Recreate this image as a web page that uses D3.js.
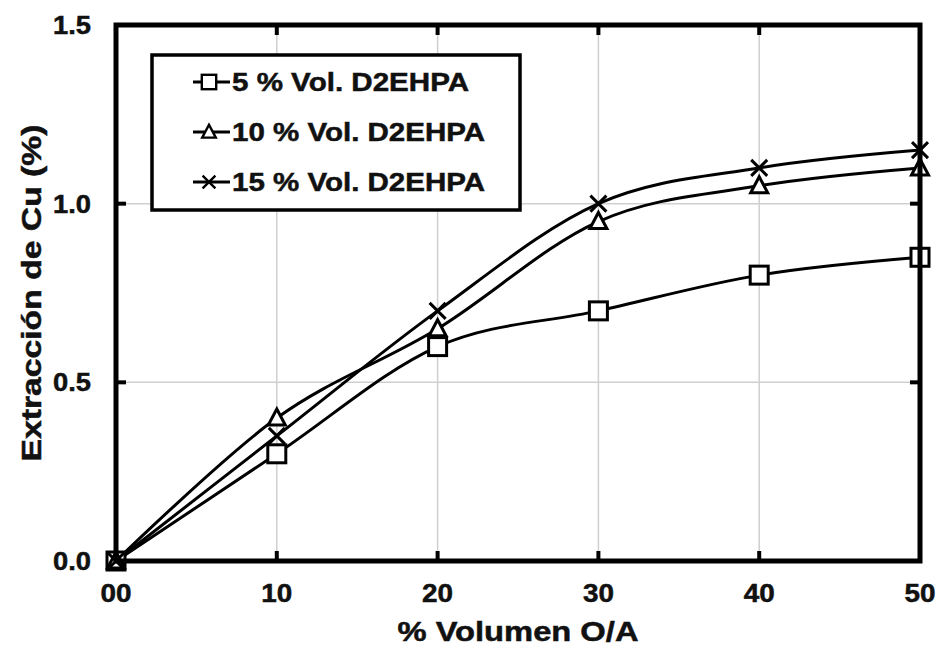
<!DOCTYPE html>
<html>
<head>
<meta charset="utf-8">
<script src="https://cdn.jsdelivr.net/npm/d3@7"></script>
<style>
  body { margin: 0; background: #fff; }
  text { font-family: "Liberation Sans", Arial, sans-serif; font-weight: bold; fill: #111; stroke: #111; stroke-width: 0.5px; }
</style>
</head>
<body>
<svg id="chart" width="938" height="664"></svg>
<script>
//*************************************************
// Data
//*************************************************
var volumen = [0, 10, 20, 30, 40, 50];
var xTickLabels = ['00', '10', '20', '30', '40', '50'];
var yTicks = [0, 0.5, 1.0, 1.5];
var seriesNames = ['5 % Vol. D2EHPA', '10 % Vol. D2EHPA', '15 % Vol. D2EHPA'];
var seriesMarkers = ['square', 'triangle', 'cross'];
var vol5 = [0, 0.30, 0.60, 0.70, 0.80, 0.85];
var vol10 = [0, 0.40, 0.65, 0.95, 1.05, 1.10];
var vol15 = [0, 0.35, 0.70, 1.00, 1.10, 1.15];

var seriesValues = [vol5, vol10, vol15];

//*************************************************
// Layout
//*************************************************
var _padding = { left: 116, right: 18, top: 25, bottom: 103 };
var _width = 938;
var _height = 664;
var __chartWidth = _width - _padding.left - _padding.right;
var __chartHeight = _height - _padding.top - _padding.bottom;

var svg = d3.select('#chart');

var xScale = d3.scaleLinear().domain([0, 50]).range([_padding.left, _padding.left + __chartWidth]);
var yScale = d3.scaleLinear().domain([0, 1.5]).range([_padding.top + __chartHeight, _padding.top]);

// grid
var grid = svg.append('g').attr('class', 'grid');
grid.selectAll('.vgrid').data([10, 20, 30, 40]).enter().append('line')
    .attr('x1', function (d){ return xScale(d); })
    .attr('x2', function (d){ return xScale(d); })
    .attr('y1', yScale(0)).attr('y2', yScale(1.5))
    .attr('stroke', '#cfcfcf').attr('stroke-width', 1.5);
grid.selectAll('.hgrid').data([0.5, 1.0]).enter().append('line')
    .attr('y1', function (d){ return yScale(d); })
    .attr('y2', function (d){ return yScale(d); })
    .attr('x1', xScale(0)).attr('x2', xScale(50))
    .attr('stroke', '#cfcfcf').attr('stroke-width', 1.5);

// lines
var line = d3.line()
    .x(function (d, i){ return xScale(volumen[i]); })
    .y(function (d){ return yScale(d); })
    .curve(d3.curveCardinal.tension(0));

var seriesG = svg.append('g').attr('class', 'series');
seriesG.selectAll('path').data(seriesValues).enter().append('path')
    .attr('d', line)
    .attr('fill', 'none')
    .attr('stroke', '#000')
    .attr('stroke-width', 3);

//----------------------------------------------------------------------------------
// Helper: draw a marker shape centered on (0,0)
//----------------------------------------------------------------------------------
function drawMarker(g, type){
    if (type === 'square'){
        g.append('rect').attr('x', -9).attr('y', -9).attr('width', 18).attr('height', 18)
            .attr('fill', '#fff').attr('stroke', '#000').attr('stroke-width', 3);
    } else if (type === 'triangle'){
        g.append('path').attr('d', 'M0,-9L8.5,7L-8.5,7Z')
            .attr('fill', '#fff').attr('stroke', '#000').attr('stroke-width', 3);
    } else {
        g.append('path').attr('d', 'M-8,-8L8,8M-8,8L8,-8')
            .attr('fill', 'none').attr('stroke', '#000').attr('stroke-width', 3);
    }
}

seriesValues.forEach(function (vals, s){
    vals.forEach(function (v, i){
        var g = seriesG.append('g')
            .attr('transform', 'translate(' + xScale(volumen[i]) + ',' + yScale(v) + ')');
        drawMarker(g, seriesMarkers[s]);
    });
});

// ticks (inside)
var ticks = svg.append('g').attr('class', 'ticks');
[10, 20, 30, 40].forEach(function (d){
    ticks.append('line').attr('x1', xScale(d)).attr('x2', xScale(d))
        .attr('y1', yScale(0)).attr('y2', yScale(0) - 10)
        .attr('stroke', '#000').attr('stroke-width', 4);
    ticks.append('line').attr('x1', xScale(d)).attr('x2', xScale(d))
        .attr('y1', yScale(1.5)).attr('y2', yScale(1.5) + 10)
        .attr('stroke', '#000').attr('stroke-width', 4);
});
[0.5, 1.0].forEach(function (d){
    ticks.append('line').attr('x1', xScale(0)).attr('x2', xScale(0) + 10)
        .attr('y1', yScale(d)).attr('y2', yScale(d))
        .attr('stroke', '#000').attr('stroke-width', 4);
    ticks.append('line').attr('x1', xScale(50)).attr('x2', xScale(50) - 10)
        .attr('y1', yScale(d)).attr('y2', yScale(d))
        .attr('stroke', '#000').attr('stroke-width', 4);
});

// frame
svg.append('rect')
    .attr('x', xScale(0)).attr('y', yScale(1.5))
    .attr('width', xScale(50) - xScale(0)).attr('height', yScale(0) - yScale(1.5))
    .attr('fill', 'none').attr('stroke', '#000').attr('stroke-width', 5);

// tick labels
svg.append('g').selectAll('text').data(volumen).enter().append('text')
    .attr('x', function (d){ return xScale(d); })
    .attr('y', yScale(0) + 41)
    .attr('text-anchor', 'middle')
    .attr('font-size', 25)
    .attr('textLength', 31).attr('lengthAdjust', 'spacingAndGlyphs')
    .text(function (d, i){ return xTickLabels[i]; });

svg.append('g').selectAll('text').data(yTicks).enter().append('text')
    .attr('x', xScale(0) - 25)
    .attr('y', function (d){ return yScale(d) + 9; })
    .attr('text-anchor', 'end')
    .attr('font-size', 25)
    .attr('textLength', 38).attr('lengthAdjust', 'spacingAndGlyphs')
    .text(function (d){ return d.toFixed(1); });

// axis titles
svg.append('text')
    .attr('x', 518).attr('y', 641)
    .attr('text-anchor', 'middle')
    .attr('font-size', 27)
    .attr('textLength', 241).attr('lengthAdjust', 'spacingAndGlyphs')
    .text('% Volumen O/A');

svg.append('text')
    .attr('transform', 'translate(41,293) rotate(-90)')
    .attr('text-anchor', 'middle')
    .attr('font-size', 27)
    .attr('textLength', 337).attr('lengthAdjust', 'spacingAndGlyphs')
    .text('Extracción de Cu (%)');

// legend
var legend = svg.append('g').attr('class', 'legend');
legend.append('rect')
    .attr('x', 152).attr('y', 55).attr('width', 368).attr('height', 155)
    .attr('fill', '#fff').attr('stroke', '#000').attr('stroke-width', 3.5);

var legendWidths = [237, 253, 253];
seriesNames.forEach(function (name, s){
    var cy = 82 + s * 50;
    legend.append('line').attr('x1', 193).attr('x2', 230).attr('y1', cy).attr('y2', cy)
        .attr('stroke', '#000').attr('stroke-width', 3);
    var g = legend.append('g').attr('transform', 'translate(209,' + cy + ') scale(0.8)');
    drawMarker(g, seriesMarkers[s]);
    legend.append('text')
        .attr('x', 232).attr('y', cy + 9)
        .attr('font-size', 26)
        .attr('textLength', legendWidths[s]).attr('lengthAdjust', 'spacingAndGlyphs')
        .text(name);
});
</script>
</body>
</html>
